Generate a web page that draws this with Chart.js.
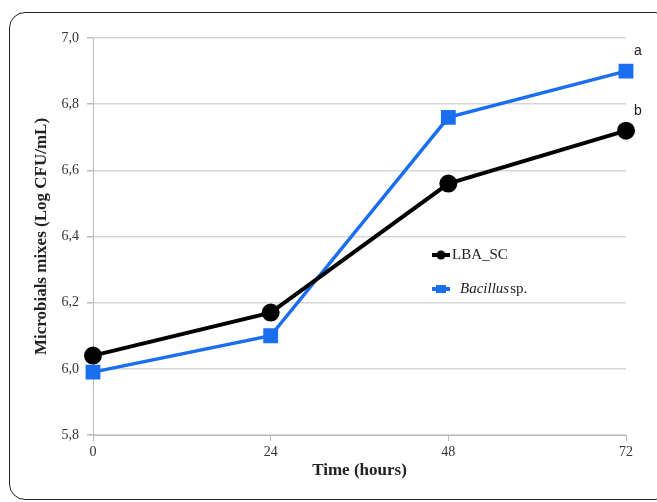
<!DOCTYPE html>
<html>
<head>
<meta charset="utf-8">
<script src="https://cdn.jsdelivr.net/npm/chart.js@4.4.1/dist/chart.umd.min.js"></script>
<style>
  html, body { margin: 0; padding: 0; background: #fff; overflow: hidden; }
  #frame { position: absolute; left: 9px; top: 12px; width: 660px; height: 486px;
           border: 1.5px solid #222; border-radius: 16px; }
  #wrap { position: absolute; left: 0; top: 0; width: 657px; height: 502px; }
</style>
</head>
<body>
<div id="frame"></div>
<div id="wrap"><canvas id="myChart" width="657" height="502"></canvas></div>
<script>
// data
const hours = [0, 24, 48, 72];
const lbaSC = [6.04, 6.17, 6.56, 6.72];
const bacillus = [5.99, 6.10, 6.76, 6.90];
const yTicks = [5.8, 6.0, 6.2, 6.4, 6.6, 6.8, 7.0];
const letters = ['b', 'a']; // significance letters at 72 h, per series

const serif = '"Liberation Serif", "Times New Roman", serif';

// legend inside the plot + the a/b letters
const extras = {
  id: 'extras',
  afterDatasetsDraw(chart) {
    const c = chart.ctx;
    const xs = chart.scales.x, ys = chart.scales.y;
    c.save();
    // letters next to last points
    c.font = '14px "Liberation Sans", Arial, sans-serif';
    c.fillStyle = '#222';
    c.textAlign = 'left';
    c.textBaseline = 'middle';
    chart.data.datasets.forEach((ds, i) => {
      const last = ds.data[ds.data.length - 1];
      const px = xs.getPixelForValue(last.x);
      const py = ys.getPixelForValue(last.y);
      const off = i === 1 ? -20 : -19;
      c.fillText(letters[i], px + 8, py + off);
    });
    // legend
    const lx = 432, rows = [255, 289];
    chart.data.datasets.forEach((ds, i) => {
      const y = rows[i];
      c.strokeStyle = ds.borderColor;
      c.fillStyle = ds.borderColor;
      c.lineWidth = 4;
      c.beginPath(); c.moveTo(lx, y); c.lineTo(lx + 18, y); c.stroke();
      if (ds.pointStyle === 'rect') {
        c.fillRect(lx + 4, y - 4, 10, 8);
      } else {
        c.beginPath(); c.arc(lx + 9, y, 4.5, 0, Math.PI * 2); c.fill();
      }
      c.fillStyle = '#222';
      c.textBaseline = 'middle';
      if (i === 0) {
        c.font = '15px ' + serif;
        c.fillText('LBA_SC', lx + 20, y);
      } else {
        c.font = 'italic 15px ' + serif;
        c.fillText('Bacillus', lx + 28, y);
        const w = c.measureText('Bacillus').width;
        c.font = '15px ' + serif;
        c.fillText('sp.', lx + 28 + w + 1, y);
      }
    });
    c.restore();
  }
};

new Chart(document.getElementById('myChart'), {
  type: 'line',
  data: {
    datasets: [
      {
        label: 'LBA_SC',
        data: hours.map((h, i) => ({ x: h, y: lbaSC[i] })),
        borderColor: '#000000',
        backgroundColor: '#000000',
        borderWidth: 4,
        pointStyle: 'circle',
        pointRadius: 7,
        pointHoverRadius: 7,
        tension: 0,
        clip: false
      },
      {
        label: 'Bacillus sp.',
        data: hours.map((h, i) => ({ x: h, y: bacillus[i] })),
        borderColor: '#1a6ff0',
        backgroundColor: '#1a6ff0',
        borderWidth: 3.5,
        pointStyle: 'rect',
        pointRadius: 8,
        pointHoverRadius: 8,
        tension: 0,
        clip: false
      }
    ]
  },
  options: {
    responsive: false,
    animation: false,
    layout: { padding: { left: 0, right: 31, top: 38, bottom: 0 } },
    plugins: { legend: { display: false }, tooltip: { enabled: false } },
    scales: {
      x: {
        type: 'linear',
        min: 0, max: 72,
        afterBuildTicks: s => { s.ticks = hours.map(v => ({ value: v })); },
        afterFit: s => { s.height = 67; },
        grid: { display: true, drawOnChartArea: false, drawTicks: true, tickLength: 6, color: '#bbb' },
        border: { color: '#bbb', width: 1 },
        ticks: { color: '#333', font: { family: serif, size: 14 }, padding: 3 },
        title: { display: true, text: 'Time (hours)', color: '#222',
                 font: { family: serif, size: 17, weight: 'bold' }, padding: { top: 0, bottom: 21 } }
      },
      y: {
        min: 5.8, max: 7.0,
        afterBuildTicks: s => { s.ticks = yTicks.map(v => ({ value: v })); },
        afterFit: s => { s.width = 93; },
        grid: { color: '#d6d6d6', lineWidth: 1.5, tickLength: 6, tickColor: '#bbb' },
        border: { color: '#bbb', width: 1 },
        ticks: { color: '#333', font: { family: serif, size: 14 }, padding: 8,
                 callback: v => v.toFixed(1).replace('.', ',') },
        title: { display: true, text: 'Microbials mixes (Log CFU/mL)', color: '#222',
                 font: { family: serif, size: 17, weight: 'bold' }, padding: { top: 31, bottom: 0 } }
      }
    }
  },
  plugins: [extras]
});
</script>
</body>
</html>
